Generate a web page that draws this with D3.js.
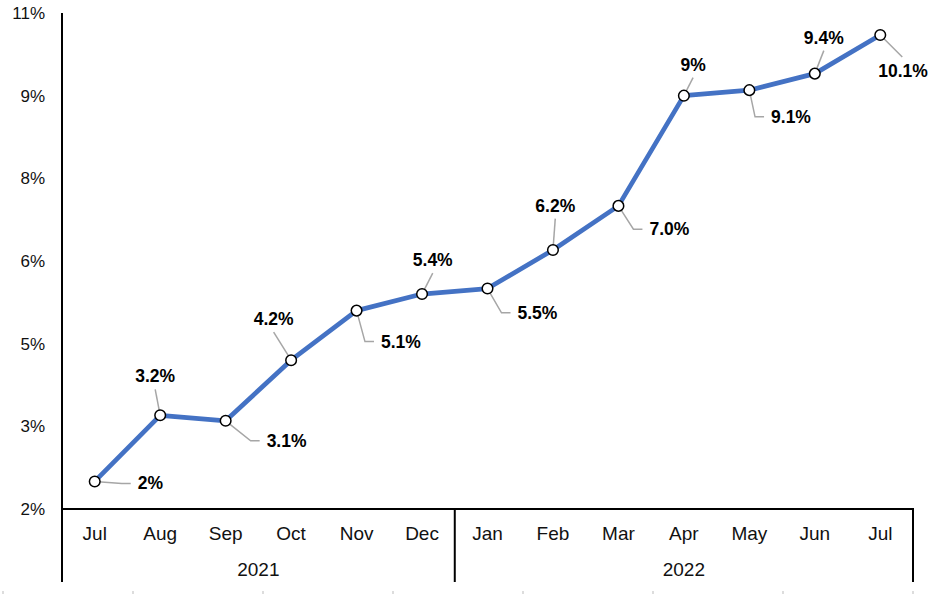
<!DOCTYPE html>
<html>
<head>
<meta charset="utf-8">
<script src="https://cdn.jsdelivr.net/npm/d3@7"></script>
<style>
  body { margin: 0; background: #fff; }
  text { font-family: "Liberation Sans", Arial, Helvetica, sans-serif; }
</style>
</head>
<body>
<div id="chart"></div>
<script>
// data
var months = ["Jul", "Aug", "Sep", "Oct", "Nov", "Dec", "Jan", "Feb", "Mar", "Apr", "May", "Jun", "Jul"];
var years = ["2021", "2022"];
var yearOf = [0, 0, 0, 0, 0, 0, 1, 1, 1, 1, 1, 1, 1];
var rates = [2.0, 3.2, 3.1, 4.2, 5.1, 5.4, 5.5, 6.2, 7.0, 9.0, 9.1, 9.4, 10.1];
var rateLabels = ["2%", "3.2%", "3.1%", "4.2%", "5.1%", "5.4%", "5.5%", "6.2%", "7.0%", "9%", "9.1%", "9.4%", "10.1%"];
var yTicks = [1.5, 3, 4.5, 6, 7.5, 9, 10.5];
var yTickLabels = ["2%", "3%", "5%", "6%", "8%", "9%", "11%"];

// where each data label sits relative to its point
var labelPlace = [
  {dx: 43, dy: 2, side: "right"},
  {dx: -5, dy: -39, side: "up"},
  {dx: 41, dy: 20, side: "right"},
  {dx: -17.5, dy: -41, side: "up"},
  {dx: 24.4, dy: 31, side: "right"},
  {dx: 10.7, dy: -34, side: "up"},
  {dx: 30, dy: 24.3, side: "right"},
  {dx: 2.3, dy: -44.3, side: "up"},
  {dx: 31, dy: 23.3, side: "right"},
  {dx: 9.2, dy: -31, side: "up"},
  {dx: 21.7, dy: 26.7, side: "right"},
  {dx: 9, dy: -36, side: "up"},
  {dx: -2, dy: 36, side: "diag"}
];

var W = 934, H = 594;
var plotLeft = 62, plotRight = 913, plotTop = 13, plotBottom = 509, axisEnd = 582;

var svg = d3.select("#chart").append("svg")
  .attr("width", W).attr("height", H);

var x = d3.scaleBand().domain(d3.range(months.length)).range([plotLeft, plotRight]);
var y = d3.scaleLinear().domain([1.5, 10.5]).range([plotBottom, plotTop]);

// y axis labels
var yAxis = svg.append("g")
  .attr("transform", "translate(" + plotLeft + ",0)")
  .call(d3.axisLeft(y).tickValues(yTicks)
    .tickFormat(function(d, i) { return yTickLabels[i]; })
    .tickSize(0).tickPadding(17));
yAxis.select(".domain").remove();
yAxis.selectAll("text")
  .attr("font-family", "Liberation Sans, Arial, sans-serif")
  .attr("font-size", 17).attr("fill", "#111");

// month labels
var xAxis = svg.append("g")
  .attr("transform", "translate(0," + plotBottom + ")")
  .call(d3.axisBottom(x).tickFormat(function(i) { return months[i]; })
    .tickSize(0).tickPadding(0));
xAxis.select(".domain").remove();
xAxis.selectAll("text")
  .attr("font-family", "Liberation Sans, Arial, sans-serif")
  .attr("font-size", 19).attr("fill", "#111")
  .attr("dy", null).attr("y", 24)
  .attr("dominant-baseline", "central");

// year groups
var groups = years.map(function(yr, k) {
  var idx = d3.range(months.length).filter(function(i) { return yearOf[i] == k; });
  return {year: yr, x0: x(idx[0]), x1: x(idx[idx.length - 1]) + x.bandwidth()};
});
svg.selectAll(".year")
  .data(groups)
  .enter().append("text")
  .attr("class", "year")
  .attr("x", function(d) { return (d.x0 + d.x1) / 2; })
  .attr("y", 569)
  .attr("text-anchor", "middle")
  .attr("dominant-baseline", "central")
  .attr("font-size", 19).attr("fill", "#111")
  .text(function(d) { return d.year; });

// axis lines
var axisCol = "#000";
svg.append("line").attr("x1", plotLeft).attr("x2", plotLeft).attr("y1", plotTop).attr("y2", axisEnd)
  .attr("stroke", axisCol).attr("stroke-width", 2);
svg.append("line").attr("x1", plotLeft).attr("x2", plotRight + 1).attr("y1", plotBottom).attr("y2", plotBottom)
  .attr("stroke", axisCol).attr("stroke-width", 2);
svg.selectAll(".sep")
  .data(groups)
  .enter().append("line")
  .attr("class", "sep")
  .attr("x1", function(d) { return d.x1; }).attr("x2", function(d) { return d.x1; })
  .attr("y1", plotBottom).attr("y2", axisEnd)
  .attr("stroke", axisCol).attr("stroke-width", 2);

// faint page marks along the bottom edge
svg.selectAll(".mark")
  .data(d3.range(8))
  .enter().append("rect")
  .attr("x", function(d) { return 2 + d * 130; })
  .attr("y", 591).attr("width", 2).attr("height", 3)
  .attr("fill", "#ddd");

// line
var pts = rates.map(function(v, i) { return [x(i) + x.bandwidth() / 2, y(v)]; });

svg.append("path")
  .datum(pts)
  .attr("d", d3.line())
  .attr("fill", "none")
  .attr("stroke", "#4472C4")
  .attr("stroke-width", 4.7)
  .attr("stroke-linejoin", "round");

// leader lines
function leader(p, lp) {
  var lx = p[0] + lp.dx, ly = p[1] + lp.dy;
  if (lp.side == "up") return [[lx, ly + 13], p];
  if (lp.side == "diag") return [p, [lx + 24, ly - 14]];
  return [p, [lx - 16, ly], [lx - 7, ly]];
}

svg.selectAll(".leader")
  .data(pts)
  .enter().append("path")
  .attr("class", "leader")
  .attr("d", function(p, i) { return d3.line()(leader(p, labelPlace[i])); })
  .attr("fill", "none")
  .attr("stroke", "#a6a6a6")
  .attr("stroke-width", 1.5);

// markers
svg.selectAll(".dot")
  .data(pts)
  .enter().append("circle")
  .attr("class", "dot")
  .attr("cx", function(p) { return p[0]; })
  .attr("cy", function(p) { return p[1]; })
  .attr("r", 5.3)
  .attr("fill", "#fff")
  .attr("stroke", "#000")
  .attr("stroke-width", 1.5);

// data labels
svg.selectAll(".lbl")
  .data(pts)
  .enter().append("text")
  .attr("class", "lbl")
  .attr("x", function(p, i) { return p[0] + labelPlace[i].dx; })
  .attr("y", function(p, i) { return p[1] + labelPlace[i].dy; })
  .attr("text-anchor", function(p, i) { return labelPlace[i].side == "up" ? "middle" : "start"; })
  .attr("dominant-baseline", "central")
  .attr("font-size", 17.5)
  .attr("font-weight", "bold")
  .attr("fill", "#000")
  .text(function(p, i) { return rateLabels[i]; });
</script>
</body>
</html>
